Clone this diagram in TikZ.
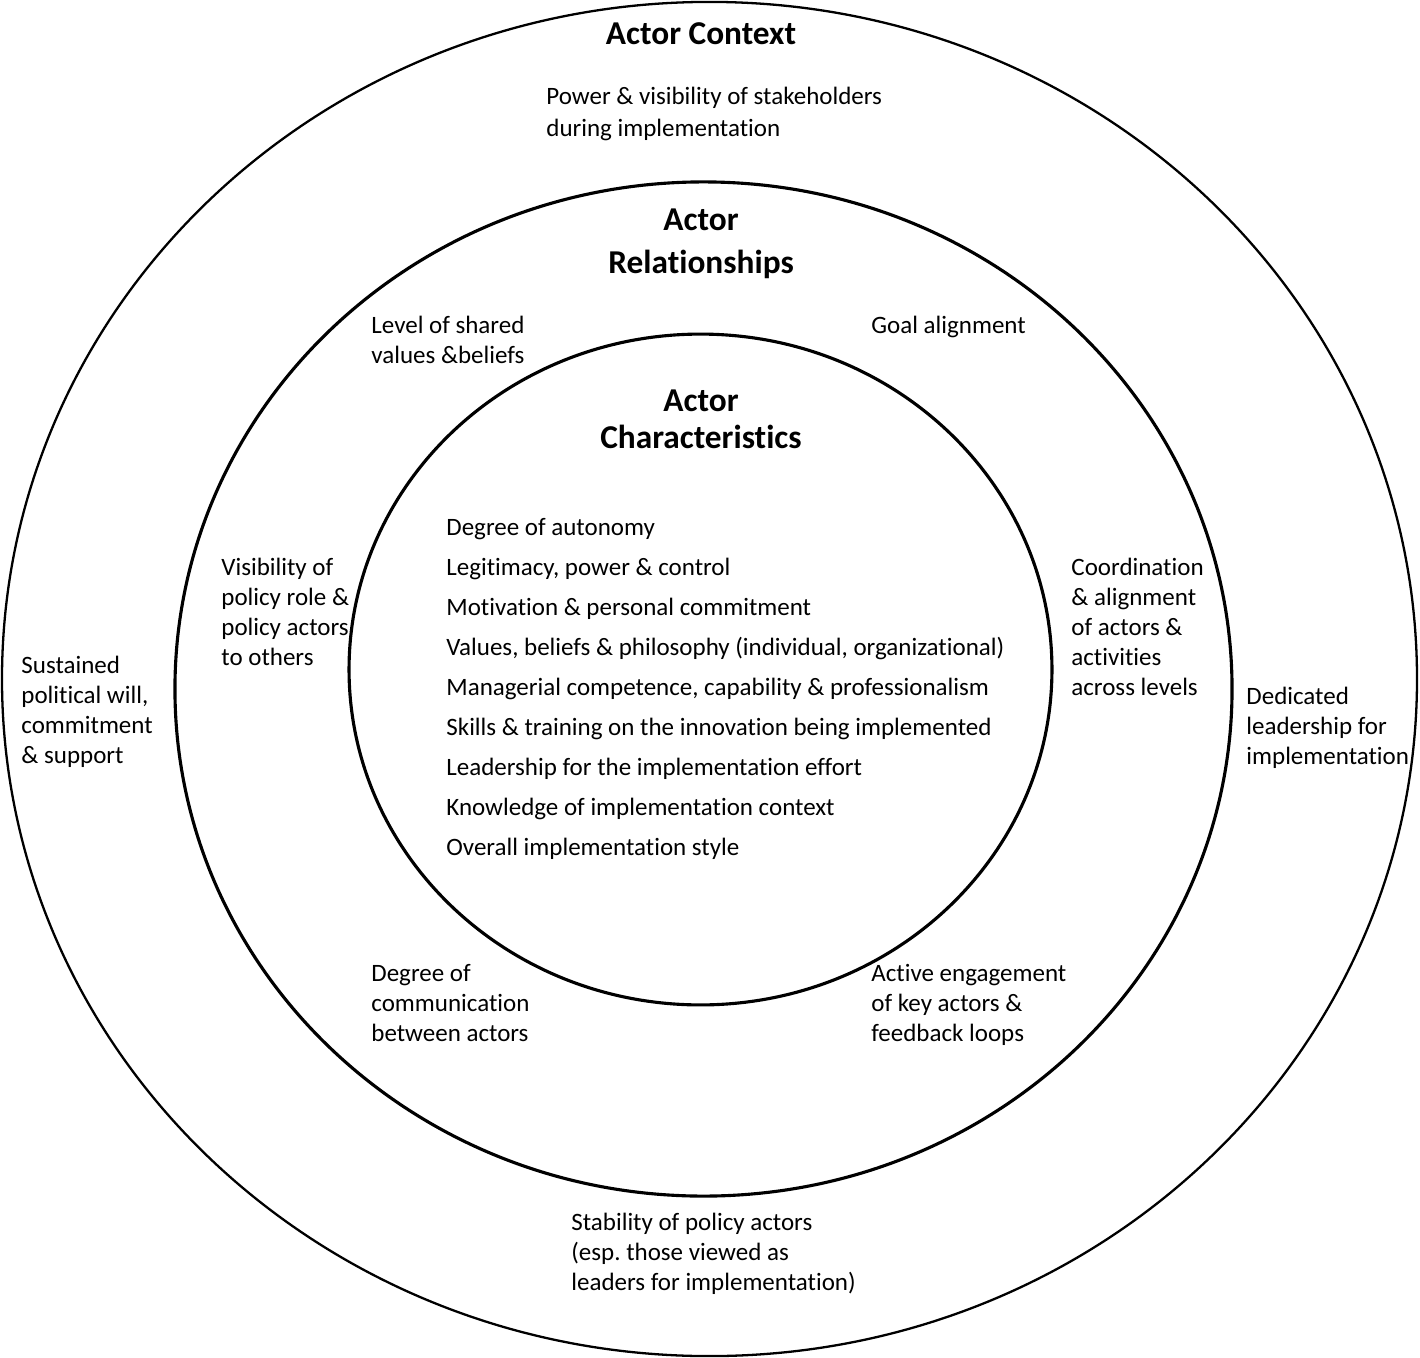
\documentclass[tikz,border=0pt]{standalone}
\usepackage{fontspec}
\setmainfont{Carlito}[Ligatures=NoCommon]
\usepackage{tikz}
\tikzset{
  ring/.style={
    draw=black, line width=1.5pt
  },
  ring title/.style={
    font=\fontsize{16}{20.2}\selectfont\bfseries,
    align=center, anchor=base, inner sep=0pt
  },
  ring text/.style={
    font=\fontsize{12}{14.3}\selectfont,
    align=left, anchor=base west, inner sep=0pt
  }
}
\begin{document}
\begin{tikzpicture}[x=0.48pt, y=-0.48pt,
  trait list/.style={ring text, font=\fontsize{12}{19.2}\selectfont},
]
\useasboundingbox (0,0) rectangle (1420,1358);

% ====== RINGS ======
\draw[ring, line width=1.1pt] (709.5,679) ellipse [x radius=339.6pt, y radius=325pt];
\draw[ring] (703.5,689) ellipse [x radius=253.7pt, y radius=243.4pt];
\draw[ring] (700.5,669.5) ellipse [x radius=168.7pt, y radius=161pt];

% ====== OUTER RING: Actor Context ======
% (multi-line nodes sit on the baseline of their last line)
\node[ring title] (ctx) at (701,44) {Actor Context};
\node[ring text, font=\fontsize{12}{14.9}\selectfont] (power) at (546,136) {Power \& visibility of stakeholders\\during implementation};
\node[ring text] (will) at (21,763) {Sustained\\political will,\\commitment\\\& support};
\node[ring text] (lead) at (1246,764) {Dedicated\\leadership for\\implementation};
\node[ring text] (stab) at (571,1290) {Stability of policy actors\\(esp.\ those viewed as\\leaders for implementation)};

% ====== MIDDLE RING: Actor Relationships ======
\node[ring title] (rel) at (701,273) {Actor\\Relationships};
\node[ring text] (values) at (371,363) {Level of shared\\values \&beliefs};
\node[ring text] (goal) at (871,333) {Goal alignment};
\node[ring text] (visib) at (221,665) {Visibility of\\policy role \&\\policy actors\\to others};
\node[ring text] (coord) at (1071,695) {Coordination\\\& alignment\\of actors \&\\activities\\across levels};
\node[ring text] (comm) at (371,1041) {Degree of\\communication\\between actors};
\node[ring text] (engage) at (871,1041) {Active engagement\\of key actors \&\\feedback loops};

% ====== INNER RING: Actor Characteristics ======
\node[ring title, font=\fontsize{16}{17.3}\selectfont\bfseries] (chr) at (701,448) {Actor\\Characteristics};
\node[trait list] (traits) at (446,855) {Degree of autonomy\\
  Legitimacy, power \& control\\
  Motivation \& personal commitment\\
  Values, beliefs \& philosophy (individual, organizational)\\
  Managerial competence, capability \& professionalism\\
  Skills \& training on the innovation being implemented\\
  Leadership for the implementation effort\\
  Knowledge of implementation context\\
  Overall implementation style};

\end{tikzpicture}
\end{document}
